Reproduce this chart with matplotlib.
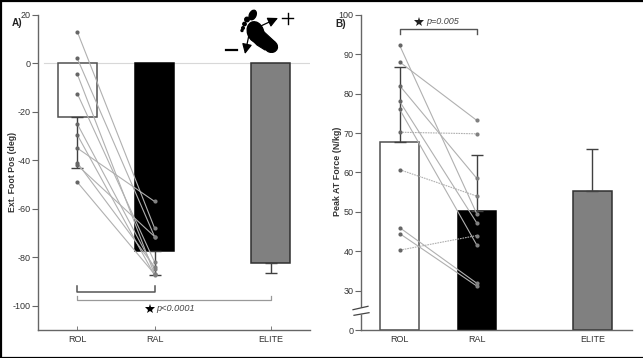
import numpy as np
import matplotlib
matplotlib.use("Agg")
import matplotlib.pyplot as plt
from matplotlib.patches import Ellipse, Polygon

plt.rcParams['font.family'] = ['Liberation Sans', 'DejaVu Sans']
plt.rcParams['axes.unicode_minus'] = False

W, H = 643, 358

groups = ["ROL", "RAL", "ELITE"]
xpos = [0, 1, 2.5]

# panel A, foot position
a_means = [-22.3, -77.5, -82.5]
a_err = [21.0, 10.0, 4.0]
a_rol = [13, 2, -4.5, -12.5, -25, -29.5, -35, -41, -42, -49]
a_ral = [-68, -71.5, -87, -82, -85, -87.5, -57, -84, -71.5, -87]
a_ticks = [-100, -80, -60, -40, -20, 0, 20]

# panel B, peak force
b_means = [67.8, 50.3, 55.3]
b_err = [18.9, 14.0, 10.7]
b_rol = [92.2, 88, 82, 78, 76, 70.2, 60.7, 46, 44.5, 40.3]
b_ral = [49.5, 73.2, 58.5, 47.2, 41.6, 69.8, 54, 31.9, 31.2, 44]
b_dashed = [False, False, False, False, False, True, True, False, False, True]
b_ticks = [0, 30, 40, 50, 60, 70, 80, 90, 100]

bar_fill = ["white", "black", "#808080"]
bar_edge = ["#505050", "black", "#303030"]
axis_col = "#666666"
text_col = "#333333"


def axes_px(left, right, top, bottom):
    return fig.add_axes([left / W, 1 - bottom / H, (right - left) / W, (bottom - top) / H])


def style_axes(ax):
    ax.spines[["top", "right"]].set_visible(False)
    ax.spines[["left", "bottom"]].set_color(axis_col)
    ax.spines[["left", "bottom"]].set_linewidth(1.0)
    ax.patch.set_alpha(0)
    ax.tick_params(axis="y", length=4, width=0.8, color=axis_col, labelsize=6.5,
                   labelcolor=text_col, pad=1.5)
    ax.tick_params(axis="x", direction="in", length=3, width=0.6, color=axis_col,
                   labelsize=6.5, labelcolor=text_col, pad=3.5)
    ax.set_xticks(xpos)
    ax.set_xticklabels(groups)


def draw_bars(ax, means, errs, up):
    for i in range(3):
        ax.bar(xpos[i], means[i], width=0.5, color=bar_fill[i], edgecolor=bar_edge[i],
               linewidth=1.1, zorder=2)
        lo = [0] if up else [errs[i]]
        hi = [errs[i]] if up else [0]
        ax.errorbar(xpos[i], means[i], yerr=[lo, hi], color="#404040", elinewidth=1.0,
                    capsize=4.5, capthick=1.0, zorder=3)


def draw_pairs(ax, rol, ral, dashed=None):
    for i in range(len(rol)):
        ls = (0, (1.5, 0.8)) if dashed and dashed[i] else "-"
        ax.plot([xpos[0], xpos[1]], [rol[i], ral[i]], color="#b0b0b0", lw=0.8, ls=ls, zorder=4)
    ax.plot([xpos[0]] * len(rol), rol, "o", color="#666666", ms=3, mew=0, zorder=5)
    ax.plot([xpos[1]] * len(ral), ral, "o", color="#808080", ms=3, mew=0, zorder=5)


fig = plt.figure(figsize=(W / 100, H / 100), dpi=100, facecolor="white")

# panel A
ax1 = axes_px(38.3, 310, 14.7, 330)
draw_bars(ax1, a_means, a_err, False)
draw_pairs(ax1, a_rol, a_ral)
ax1.axhline(0, xmin=0.02, color="#d8d8d8", lw=0.8, zorder=1)
ax1.set_xlim(-0.504, 3.01)
ax1.set_ylim(-110, 20)
ax1.set_yticks(a_ticks)
style_axes(ax1)
ax1.plot([0, 0, 1, 1], [-92, -94.2, -94.2, -92], color="#555555", lw=1.1)
ax1.plot([0, 0, 2.5, 2.5], [-96, -97.7, -97.7, -96], color="#999999", lw=0.9)
ax1.plot([0.94], [-101.3], "*", color="black", ms=7.5, mew=0)
ax1.text(1.02, -101.3, "p<0.0001", style="italic", fontsize=6.6, color="#444444", va="center")

# panel B, everything below 30 is squeezed for the axis break
squeeze = 9.95 / 30


def b_forward(y):
    y = np.asarray(y, dtype=float)
    return np.where(y < 30, y * squeeze, y - 30 + 9.95)


def b_inverse(y):
    y = np.asarray(y, dtype=float)
    return np.where(y < 9.95, y / squeeze, y + 30 - 9.95)


ax2 = axes_px(361.3, 632, 14.7, 330)
ax2.set_yscale("function", functions=(b_forward, b_inverse))
draw_bars(ax2, b_means, b_err, True)
draw_pairs(ax2, b_rol, b_ral, b_dashed)
ax2.set_xlim(-0.498, 3.013)
ax2.set_ylim(0, 100)
ax2.set_yticks(b_ticks)
ax2.set_yticklabels([str(t) for t in b_ticks])
ax2.minorticks_off()
style_axes(ax2)
ax2.plot([0, 0, 1, 1], [95, 96.4, 96.4, 95], color="#555555", lw=1.0)
ax2.plot([0.25], [98.2], "*", color="#222222", ms=7.5, mew=0)
ax2.text(0.34, 98.2, "p=0.005", style="italic", fontsize=6.5, color="#444444", va="center")

# overlay in pixel coordinates for labels, frame, axis break and the foot icon
ov = fig.add_axes([0, 0, 1, 1], zorder=10)
ov.set_xlim(0, W)
ov.set_ylim(H, 0)
ov.axis("off")

ov.text(12, 23, "A)", fontsize=7.2, fontweight="bold", color="#222222", va="center")
ov.text(335, 24, "B)", fontsize=7.2, fontweight="bold", color="#222222", va="center")
ov.text(13, 171.5, "Ext. Foot Pos (deg)", rotation=90, fontsize=6.3, fontweight="bold",
        color=text_col, ha="center", va="center")
ov.text(338, 171.5, "Peak AT Force (N/kg)", rotation=90, fontsize=6.4, fontweight="bold",
        color=text_col, ha="center", va="center")

# frame
ov.plot([0.5, 0.5], [0, H], color="black", lw=1.6)
ov.plot([0, W], [0.5, 0.5], color="black", lw=1.6)
ov.plot([0, W], [H - 0.5, H - 0.5], color="black", lw=1.6)

# axis break
ov.fill([352, 370, 370, 352], [310.5, 306.5, 312, 316], color="white", zorder=1)
ov.plot([353, 368], [309.7, 306.3], color="#444444", lw=0.9)
ov.plot([354, 369], [315.3, 312.7], color="#444444", lw=0.9)

# foot icon
ov.add_patch(Ellipse((252.7, 15), 6.5, 10, angle=25, color="black"))
for cx, cy, r in [(247, 19.5, 4.5), (244.5, 24, 3.4), (243, 28, 2.6), (242, 30.5, 2)]:
    ov.add_patch(Ellipse((cx, cy), r, r, color="black"))
ov.add_patch(Ellipse((255.5, 32), 16, 21, angle=-20, color="black"))
ov.add_patch(Ellipse((271, 46.5), 13, 11.5, angle=20, color="black"))
foot = [(250, 38), (262, 30), (275, 42), (265, 50), (257, 45)]
ov.add_patch(Polygon(foot, closed=True, facecolor="black", edgecolor="black", lw=0.8, joinstyle="round"))
ov.annotate("", xy=(278, 18), xytext=(250, 31),
            arrowprops=dict(arrowstyle="-|>", color="black", lw=0.9, mutation_scale=15, shrinkA=0, shrinkB=0))
ov.annotate("", xy=(245, 54), xytext=(250, 30),
            arrowprops=dict(arrowstyle="-|>", color="black", lw=0.9, mutation_scale=15, shrinkA=0, shrinkB=0))
ov.plot([282, 293], [18, 18], color="black", lw=1.0)
ov.plot([287.5, 287.5], [12.5, 23.5], color="black", lw=1.0)
ov.plot([226, 237], [50, 50], color="black", lw=1.6)

fig.savefig("out.png", dpi=100)
